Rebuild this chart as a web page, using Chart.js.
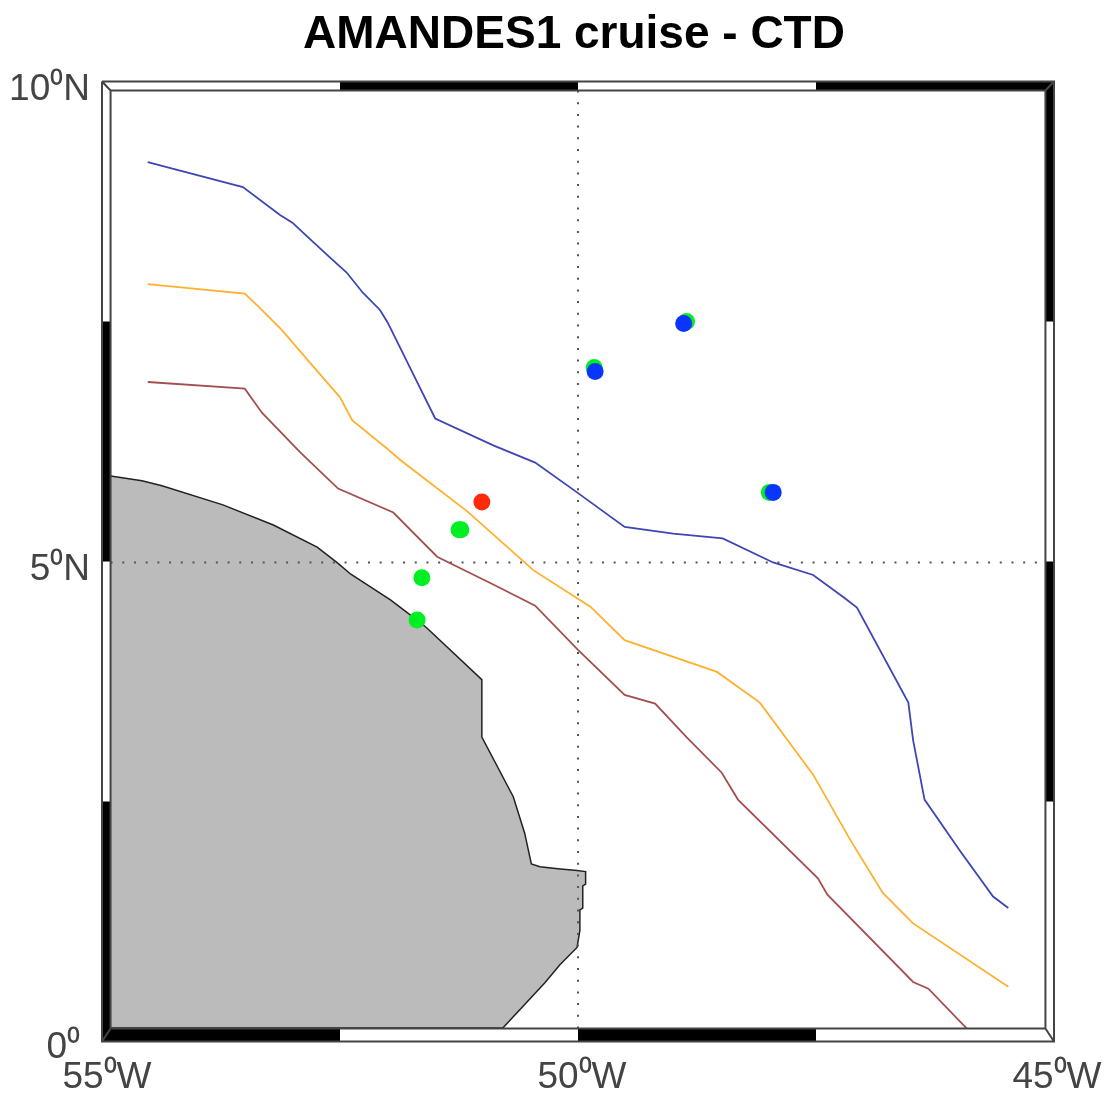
<!DOCTYPE html>
<html>
<head>
<meta charset="utf-8">
<title>AMANDES1 cruise - CTD</title>
<script src="https://cdn.jsdelivr.net/npm/chart.js@4"></script>
<style>
  body { margin: 0; background: #fff; }
  canvas { display: block; }
</style>
</head>
<body>
<canvas id="myChart" width="1112" height="1097"></canvas>
<script>
// tick labels
var lonTicks = [-55, -50, -45];
var lonLabels = ['55⁰W', '50⁰W', '45⁰W'];
var latTicks = [10, 5, 0];
var latLabels = ['10⁰N', '5⁰N', '0⁰'];

// coast (lon / lat)
var landLon = [-54.91, -54.58, -54.37, -53.73, -53.20, -52.74, -52.52, -52.39, -51.97, -51.69, -51.59, -51.01, -51.01, -50.68, -50.56, -50.49, -50.40, -50.21, -50.01, -49.92, -49.92, -49.95, -49.95, -49.98, -49.98, -50.01, -50.19, -50.35, -50.79, -54.91];
var landLat = [5.89, 5.84, 5.79, 5.59, 5.38, 5.15, 4.98, 4.87, 4.60, 4.39, 4.31, 3.77, 3.17, 2.55, 2.17, 1.85, 1.82, 1.80, 1.78, 1.77, 1.64, 1.62, 1.39, 1.37, 1.16, 0.98, 0.80, 0.61, 0.14, 0.14];

// contour lines
var blueLon = [-54.52, -53.52, -53.13, -53.00, -52.86, -52.61, -52.43, -52.26, -52.08, -52.00, -51.84, -51.70, -51.50, -50.89, -50.45, -50.01, -49.51, -49.00, -48.48, -47.95, -47.53, -47.20, -47.07, -46.53, -46.48, -46.36, -45.99, -45.64, -45.48];
var blueLat = [9.16, 8.90, 8.61, 8.53, 8.40, 8.17, 8.01, 7.80, 7.62, 7.49, 7.17, 6.89, 6.49, 6.21, 6.03, 5.72, 5.36, 5.29, 5.24, 4.99, 4.86, 4.62, 4.52, 3.53, 3.14, 2.52, 1.99, 1.51, 1.39];
var orangeLon = [-54.52, -53.50, -53.34, -53.11, -52.78, -52.50, -52.37, -52.01, -51.87, -51.16, -50.47, -49.87, -49.51, -48.54, -48.09, -47.53, -47.14, -46.80, -46.48, -45.48];
var orangeLat = [7.89, 7.79, 7.64, 7.41, 7.03, 6.71, 6.47, 6.18, 6.06, 5.52, 4.91, 4.53, 4.18, 3.85, 3.53, 2.78, 2.10, 1.55, 1.23, 0.57];
var brownLon = [-54.52, -53.50, -53.32, -52.92, -52.52, -51.94, -51.48, -50.89, -50.45, -50.00, -49.51, -49.19, -48.86, -48.49, -48.32, -47.48, -47.38, -46.48, -46.32, -45.92];
var brownLat = [6.87, 6.80, 6.55, 6.14, 5.76, 5.51, 5.05, 4.76, 4.54, 4.08, 3.61, 3.52, 3.17, 2.80, 2.52, 1.70, 1.53, 0.62, 0.55, 0.14];

// CTD stations
var greenLon = [-48.86, -49.83, -47.99, -51.25, -51.23, -51.64, -51.69];
var greenLat = [7.50, 7.02, 5.72, 5.33, 5.33, 4.83, 4.39];
var blueStnLon = [-48.89, -49.82, -47.95];
var blueStnLat = [7.48, 6.98, 5.72];
var redStnLon = [-51.01];
var redStnLat = [5.62];

// dotted graticule
var gridLon = -50;
var gridLat = 4.99;

// fancy frame
var frameLon = [-55, -52.5, -50, -47.5, -45];
var frameLat = [10, 7.5, 5, 2.5, 0];
var inW = -54.91, inE = -45.09, inN = 9.906, inS = 0.135;
var midW = -54.958, midE = -45.042, midN = 9.953, midS = 0.068;

function toPts(xs, ys) {
    return xs.map(function (x, i) { return { x: x, y: ys[i] }; });
}

function lineSet(xs, ys, color, width, order) {
    return {
        data: toPts(xs, ys), showLine: true, borderColor: color, borderWidth: width,
        pointRadius: 0, order: order
    };
}

function dotSet(xs, ys, color, order) {
    return {
        data: toPts(xs, ys), showLine: false, pointRadius: 8.5, pointBorderWidth: 0,
        pointBackgroundColor: color, order: order
    };
}

// black pieces of the frame, broken up with nulls
function blackPieces() {
    var pts = [];
    frameLon.slice(0, -1).forEach(function (lon, i) {
        var top = i % 2 == 1 ? midN : midS;
        pts.push({ x: lon, y: top }, { x: frameLon[i + 1], y: top }, { x: null, y: null });
    });
    return pts;
}
function blackPiecesSide() {
    var pts = [];
    frameLat.slice(0, -1).forEach(function (lat, i) {
        var side = i % 2 == 1 ? midW : midE;
        pts.push({ x: side, y: lat }, { x: side, y: frameLat[i + 1] }, { x: null, y: null });
    });
    return pts;
}

// bottom band is thicker than the others, so it gets split out
var hPieces = blackPieces();
var topPieces = hPieces.filter(function (p) { return p.y === midN || p.y === null; });
var bottomPieces = hPieces.filter(function (p) { return p.y === midS || p.y === null; });

var frameLines = [
    { x: -55, y: 10 }, { x: -45, y: 10 }, { x: -45, y: 0 }, { x: -55, y: 0 }, { x: -55, y: 10 }, { x: null, y: null },
    { x: inW, y: inN }, { x: inE, y: inN }, { x: inE, y: inS }, { x: inW, y: inS }, { x: inW, y: inN }, { x: null, y: null },
    { x: -55, y: 10 }, { x: inW, y: inN }, { x: null, y: null },
    { x: -45, y: 10 }, { x: inE, y: inN }, { x: null, y: null },
    { x: -45, y: 0 }, { x: inE, y: inS }, { x: null, y: null },
    { x: -55, y: 0 }, { x: inW, y: inS }
];

function frameSet(pts, color, width, order) {
    return {
        data: pts, showLine: true, borderColor: color, borderWidth: width, pointRadius: 0,
        borderCapStyle: 'butt', spanGaps: false, clip: false, order: order
    };
}

// tick text sits off the true tick position on this map
var tickText = {
    id: 'tickText',
    afterDraw: function (chart) {
        var ctx = chart.ctx;
        var xAxis = chart.scales.x, yAxis = chart.scales.y;
        var lonNudge = [5, 4, 3];
        var latNudge = [8, 8, 6];
        var latEdge = [90, 90, 80];
        ctx.save();
        ctx.font = '37px "Liberation Sans"';
        ctx.fillStyle = '#444';
        ctx.textBaseline = 'middle';
        ctx.textAlign = 'center';
        lonTicks.forEach(function (v, i) {
            ctx.fillText(lonLabels[i], xAxis.getPixelForValue(v) + lonNudge[i], yAxis.bottom + 36);
        });
        ctx.textAlign = 'right';
        latTicks.forEach(function (v, i) {
            ctx.fillText(latLabels[i], latEdge[i], yAxis.getPixelForValue(v) + latNudge[i]);
        });
        ctx.restore();
    }
};

var datasets = [
    frameSet(frameLines, '#444', 2, 0),
    frameSet(topPieces, '#000', 10, 1),
    frameSet(bottomPieces, '#000', 13, 1),
    frameSet(blackPiecesSide(), '#000', 10, 1),
    dotSet(blueStnLon, blueStnLat, '#0a35ff', 2),
    dotSet(redStnLon, redStnLat, '#ff2a0a', 3),
    dotSet(greenLon, greenLat, '#00ee22', 3),
    lineSet(blueLon, blueLat, '#3d46b4', 1.8, 4),
    lineSet(orangeLon, orangeLat, '#ffb02e', 1.8, 4),
    lineSet(brownLon, brownLat, '#a34f4f', 1.8, 4),
    {
        data: [{ x: gridLon, y: inN }, { x: gridLon, y: inS }], showLine: true, borderColor: '#555',
        borderWidth: 2, borderDash: [2, 9.7], pointRadius: 0, order: 5
    },
    {
        data: [{ x: inW, y: gridLat }, { x: inE, y: gridLat }], showLine: true, borderColor: '#555',
        borderWidth: 2, borderDash: [2, 9.7], pointRadius: 0, order: 5
    },
    {
        data: toPts(landLon, landLat), showLine: true, borderColor: '#222', borderWidth: 1.5,
        backgroundColor: '#bbbbbb', fill: 'shape', pointRadius: 0, order: 6
    }
];

var ctx = document.getElementById('myChart').getContext('2d');
var myChart = new Chart(ctx, {
    type: 'scatter',
    data: { datasets: datasets },
    plugins: [tickText],
    options: {
        responsive: false,
        animation: false,
        layout: { padding: { left: 94, right: 58, top: 0, bottom: 47.5 } },
        plugins: {
            legend: { display: false },
            tooltip: { enabled: false },
            title: {
                display: true,
                text: 'AMANDES1 cruise - CTD',
                color: '#000',
                font: { family: '"Liberation Sans"', size: 46, weight: 'bold' },
                padding: { top: 8, bottom: 18.3 }
            }
        },
        scales: {
            x: {
                type: 'linear', min: -55, max: -45,
                grid: { display: false }, border: { display: false }, ticks: { display: false }
            },
            y: {
                type: 'linear', min: 0, max: 10,
                grid: { display: false }, border: { display: false }, ticks: { display: false }
            }
        }
    }
});
</script>
</body>
</html>
